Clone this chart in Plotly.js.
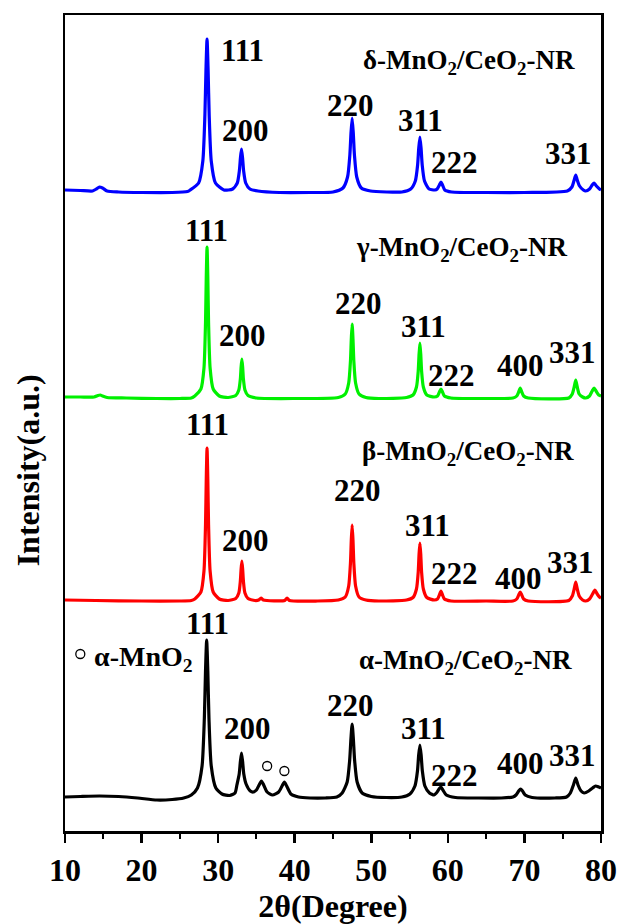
<!DOCTYPE html>
<html>
<head>
<meta charset="utf-8">
<script src="https://cdn.plot.ly/plotly-3.0.1.min.js"></script>
<style>html,body{margin:0;padding:0;background:#fff;}#chart{width:619px;height:924px;}</style>
</head>
<body>
<div id="chart"></div>
<script>
// 2θ (degree) and intensity (a.u., stacked offsets as plotted)
const deltaX = [10,12,13.6,14.1,14.5,14.9,15.5,17,20,24,26,26.35,27.45,28.0,28.27,28.41,28.55,28.69,28.83,29.1,29.65,30.75,31.9,32.5,32.77,32.91,33.05,33.19,33.33,33.6,34.15,35.2,38,42,45,46.3,46.9,47.2,47.35,47.5,47.65,47.8,48.1,48.7,49.9,52,54,55.15,55.75,56.05,56.2,56.35,56.5,56.65,56.95,57.55,58.3,58.6,58.9,59.1,59.3,59.6,60.5,65,70,75.6,76.2,76.5,76.7,76.9,77.2,77.7,78.0,78.5,78.85,79.1,79.4,79.8,80];
const deltaY = [641,640.5,640,642,644,643,640,639,638.5,638.5,639.5,641,648,670,716,761,792,761,716,670,648,641,642,648,660,673,682,673,660,648,642,640,638.5,638.5,639,643,654,676,698,713,698,676,654,643,640,639,639,642,650,666,683,694,683,666,650,642,641,642,646,649,646,641,639,638.5,638.5,640,644,651,656,651,645,641,640,642,646,648,645,642,641];

const gammaX = [10,12,13.8,14.3,14.6,14.9,15.5,18,22,25,26.5,26.95,27.75,28.15,28.35,28.45,28.55,28.65,28.75,28.95,29.35,30.15,31.3,32.3,32.7,32.9,33.0,33.1,33.2,33.3,33.5,33.9,35,40,45.7,46.6,47.05,47.28,47.39,47.5,47.61,47.72,47.95,48.4,49.3,51,54.6,55.45,55.9,56.13,56.24,56.35,56.46,56.57,56.8,57.25,58.2,58.65,58.9,59.1,59.3,59.55,60.4,65,68.5,69.0,69.25,69.45,69.65,69.9,70.5,75.8,76.25,76.5,76.7,76.9,77.15,77.6,78.0,78.5,78.85,79.1,79.35,79.7,80];
const gammaY = [434,434,434,435.5,436,435,433.5,433,432.5,432.5,433,435,442,463,508,554,584,554,508,463,442,435,433.5,435.5,441,452,464,472,464,452,441,435.5,433,432.5,433.5,437,448,470,492,507,492,470,448,437,433.5,432.5,433.5,436,444,460,477,488,477,460,444,436,434,435,439,442,439,435,433,432.5,433,435,439,443,439,435,433,433,437,444,451,444,437,434,433,435,440,443,440,436,435];

const betaX = [10,14,20,25,26.5,26.95,27.75,28.15,28.35,28.45,28.55,28.65,28.75,28.95,29.35,30.15,31.3,32.3,32.7,32.9,33.0,33.1,33.2,33.3,33.5,33.9,34.8,35.3,35.6,35.9,38.7,39.0,39.3,43,45.7,46.6,47.05,47.28,47.39,47.5,47.61,47.72,47.95,48.4,49.3,51,54.6,55.45,55.9,56.13,56.24,56.35,56.46,56.57,56.8,57.25,58.2,58.65,58.9,59.1,59.3,59.55,60.4,65,68.5,69.0,69.25,69.45,69.65,69.9,70.5,75.8,76.25,76.5,76.7,76.9,77.15,77.6,78.0,78.5,78.9,79.2,79.5,79.8,80];
const betaY = [231,230.5,230,230,230.5,232,239,260,306,352,383,352,306,260,239,232,230.5,232.5,238,250,262,270,262,250,238,232.5,230.5,231,233,231,230.5,233,230.5,230,231,234,245,268,291,306,291,268,245,234,231,230,231,233.5,242,259,277,288,277,259,242,233.5,231,232,236,240,236,232,230,230,230,232,236,239,236,232,230,230.5,235,242,249,242,235,231,230,232,237,241,237,234,233];

const alphaX = [10,12,14.5,17,19.5,22,24,25.5,26.5,27.3,27.9,28.2,28.35,28.5,28.65,28.8,29.1,29.7,30.5,31.5,32.2,32.45,32.75,32.9,33.05,33.2,33.35,33.65,34.2,34.6,35.0,35.35,35.65,35.95,36.4,37.1,37.9,38.35,38.65,38.95,39.5,40.5,42,44,45.5,46.2,46.85,47.18,47.34,47.5,47.66,47.82,48.15,48.8,50,52,54,55.05,55.7,56.03,56.19,56.35,56.51,56.67,57.0,57.6,58.2,58.5,58.85,59.1,59.35,59.8,61,64,67,68.5,68.9,69.25,69.5,69.75,70.1,71,74,75.5,76.0,76.4,76.7,77.0,77.4,77.8,78.4,78.9,79.3,79.7,80];
const alphaY = [34,34.5,35,34.5,33,31,31.5,33,36,43,65,113,160,191,160,113,65,43,37,35.5,38,46,57,69,78,69,57,47,40,39,41,46,50,46,39,36,39,45,49,45,37,34,33,33,34,38,49,71,92,107,92,71,49,38,34.5,33.5,34,37,45,60,76,86,76,60,45,38,36,38,42,44,41,36,33.5,33,33,34,36,40,42,40,36,33.5,33,34,38,46,53,46,40,38,40,43,45,44,43];

// α-MnO2 impurity markers (open circles)
const circleX = [12.0, 36.4, 38.65];
const circleY = [177, 65, 60];

// Peak labels (Miller indices)
const lblDelta = [['111',33.16,781],['200',33.55,701],['220',47.29,726],['311',56.45,711],['222',60.9,669],['331',75.81,678]];
const lblGamma = [['111',28.45,601],['200',33.16,496],['220',48.34,528],['311',56.84,505],['222',60.5,456],['400',69.53,466],['331',76.34,479]];
const lblBeta  = [['111',28.58,407],['200',33.55,291],['220',48.2,341],['311',57.36,306],['222',60.9,258],['400',69.27,253],['331',76.07,269]];
const lblAlpha = [['111',28.58,208],['200',33.81,103],['220',47.29,126],['311',56.84,103],['222',60.9,56],['400',69.53,68],['331',76.34,76]];
const sampleNames = ['δ-MnO<sub>2</sub>/CeO<sub>2</sub>-NR','γ-MnO<sub>2</sub>/CeO<sub>2</sub>-NR','β-MnO<sub>2</sub>/CeO<sub>2</sub>-NR','α-MnO<sub>2</sub>/CeO<sub>2</sub>-NR'];
const samplePos = [[62.8,769],[61.85,582],[62.64,378],[62.24,169]];
const xTicks = [10,20,30,40,50,60,70,80];

const FONT = 'Liberation Serif, Times New Roman, serif';
const lineTrace = (x,y,c) => ({x:x,y:y,type:'scatter',mode:'lines',line:{color:c,width:3.2,shape:'spline',smoothing:0.6},hoverinfo:'skip'});
const traces = [
  lineTrace(alphaX,alphaY,'#000000'),
  lineTrace(betaX,betaY,'#ff0000'),
  lineTrace(gammaX,gammaY,'#00f000'),
  lineTrace(deltaX,deltaY,'#0000ff'),
  {x:circleX,y:circleY,type:'scatter',mode:'markers',marker:{symbol:'circle-open',size:9,color:'#000',line:{width:1.3,color:'#000'}},hoverinfo:'skip'}
];

const ann = [];
[lblDelta,lblGamma,lblBeta,lblAlpha].forEach(list => list.forEach(l => ann.push({x:l[1],y:l[2],xref:'x',yref:'y',text:l[0],showarrow:false,font:{family:FONT,size:31,color:'#000',weight:'bold'}})));
sampleNames.forEach((s,i)=>ann.push({x:samplePos[i][0],y:samplePos[i][1],xref:'x',yref:'y',text:s,showarrow:false,font:{family:FONT,size:27,color:'#000',weight:'bold'}}));
ann.push({x:20.2,y:173,xref:'x',yref:'y',text:'α-MnO<sub>2</sub>',showarrow:false,font:{family:FONT,size:28,color:'#000',weight:'bold'}});
ann.push({x:-0.069,y:0.442,xref:'paper',yref:'paper',xanchor:'center',yanchor:'middle',text:'Intensity(a.u.)',textangle:-90,showarrow:false,font:{family:FONT,size:32,color:'#000',weight:'bold'}});

const layout = {
  width:619,height:924,
  margin:{l:65,r:18,t:15,b:93},
  paper_bgcolor:'#fff',plot_bgcolor:'#fff',
  showlegend:false,
  font:{family:FONT,color:'#000',weight:'bold'},
  xaxis:{range:[10,80],tickvals:xTicks,ticktext:xTicks.map(String),ticks:'outside',ticklen:9,tickwidth:2.5,tickcolor:'#000',
    minor:{dtick:5,tick0:5,ticks:'outside',ticklen:5,tickwidth:2,tickcolor:'#000'},
    showgrid:false,zeroline:false,showline:true,linewidth:2.5,linecolor:'#000',mirror:true,
    tickfont:{family:FONT,size:32,color:'#000',weight:'bold'},
    title:{text:'2θ(Degree)',font:{family:FONT,size:32,color:'#000',weight:'bold'},standoff:8}},
  yaxis:{range:[0,816],showticklabels:false,ticks:'',showgrid:false,zeroline:false,showline:true,linewidth:2.5,linecolor:'#000',mirror:true},
  annotations:ann
};
Plotly.newPlot('chart',traces,layout,{displayModeBar:false,staticPlot:true});
</script>
</body>
</html>
